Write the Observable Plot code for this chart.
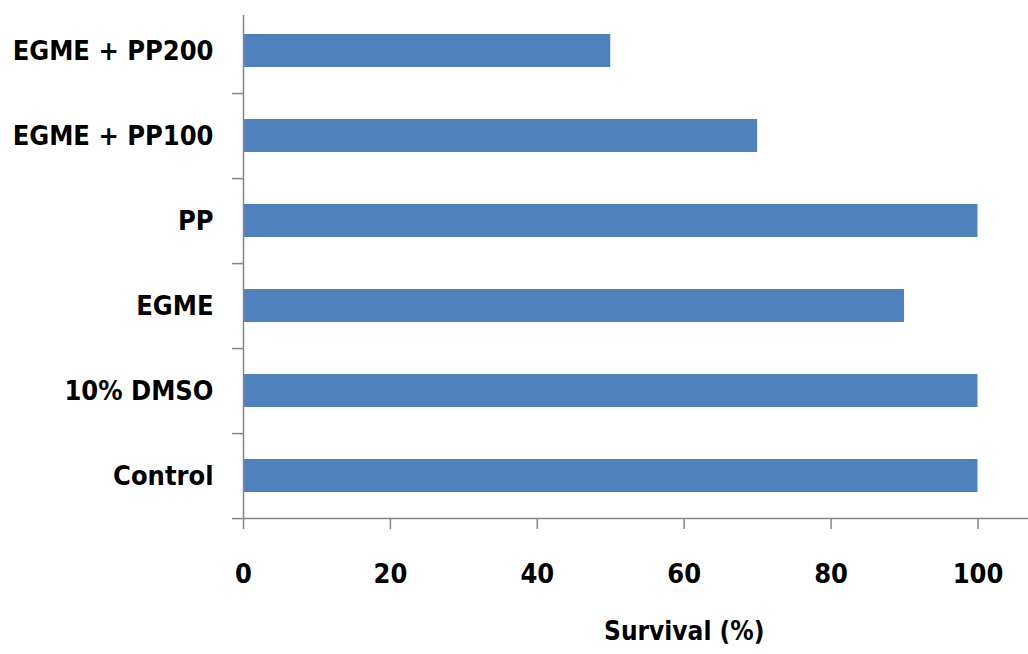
<!DOCTYPE html>
<html>
<head>
<meta charset="utf-8">
<script src="https://cdn.jsdelivr.net/npm/d3@7"></script>
<script src="https://cdn.jsdelivr.net/npm/@observablehq/plot@0.6"></script>
<style>
  html, body { margin: 0; padding: 0; background: #fff; }
  #chart svg { display: block; }
</style>
</head>
<body>
<div id="chart"></div>
<script>
const categories = ["EGME + PP200", "EGME + PP100", "PP", "EGME", "10% DMSO", "Control"];
const survival = [50, 70, 100, 90, 100, 100];
const xTicks = [0, 20, 40, 60, 80, 100];
const xTitle = "Survival (%)";
const xTitleCenter = 60; // centre of the original 0–120 axis

const data = categories.map((c, i) => ({category: c, value: survival[i]}));

const W = 1028, H = 654;
const mTop = 7, mBottom = 136, mLeft = 243, mRight = 0;
const pxPerUnit = (977.5 - 243) / 100;
const xMax = (W - mLeft - mRight) / pxPerUnit;
const step = (H - mTop - mBottom) / categories.length;
const axisColor = "#868686";
const font = "'DejaVu Sans Condensed', 'DejaVu Sans', sans-serif";

const chart = Plot.plot({
  width: W,
  height: H,
  marginTop: mTop,
  marginBottom: mBottom,
  marginLeft: mLeft,
  marginRight: mRight,
  style: {fontFamily: font, fontStretch: "condensed", background: "#fff", color: "#000"},
  x: {domain: [0, xMax], axis: null},
  y: {domain: categories, padding: 0, axis: null},
  marks: [
    Plot.barX(data, {x: "value", y: "category", fill: "#4F81BD", insetTop: 26, insetBottom: 26}),
    // y-axis line
    Plot.ruleX([0], {stroke: axisColor, strokeWidth: 1.5, insetTop: 8}),
    // x-axis line at bottom of last band
    Plot.ruleY([categories[categories.length - 1]], {dy: step / 2, stroke: axisColor, strokeWidth: 1.5}),
    // y tick marks at band boundaries
    Plot.ruleY(categories, {dy: step / 2, x1: -11 / pxPerUnit, x2: 0, stroke: axisColor, strokeWidth: 1.5}),
    // x ticks and labels
    Plot.axisX({
      ticks: xTicks,
      tickSize: 11,
      tickPadding: 34,
      stroke: axisColor,
      strokeWidth: 1.5,
      fill: "#000",
      fontSize: 27,
      fontWeight: "bold",
      label: null
    }),
    // y labels
    Plot.axisY({
      tickSize: 0,
      tickPadding: 30,
      fill: "#000",
      fontSize: 27,
      fontWeight: "bold",
      label: null
    }),
    // x title
    Plot.text([xTitle], {
      x: xTitleCenter,
      frameAnchor: "bottom",
      dy: 121,
      fontSize: 26,
      fontWeight: "bold",
      fill: "#000"
    })
  ]
});
document.getElementById("chart").append(chart);
</script>
</body>
</html>
